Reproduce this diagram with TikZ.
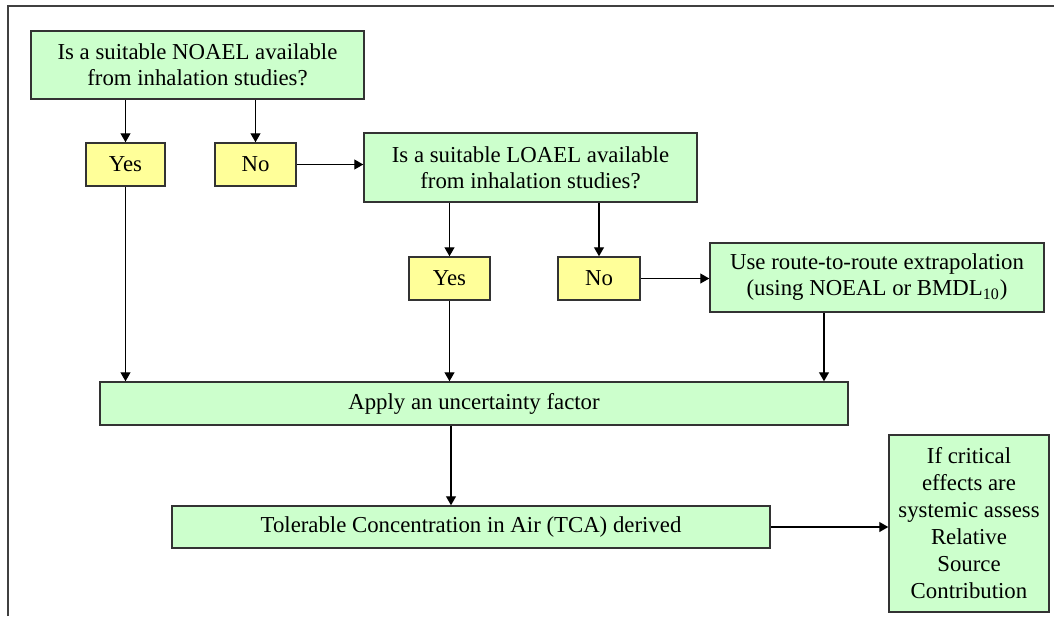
\documentclass[tikz,border=0pt]{standalone}
\usepackage{fontspec}
\setmainfont{LiberationSerif}[Extension=.ttf,UprightFont=*-Regular,BoldFont=*-Bold]
\usetikzlibrary{arrows.meta}

\definecolor{boxgreen}{HTML}{CCFFCC}
\definecolor{boxyellow}{HTML}{FFFF99}

\tikzset{
  greenbox/.style={draw=black!80, fill=boxgreen, line width=0.75pt, align=center, inner sep=0pt},
  answer/.style={draw=black!80, fill=boxyellow, line width=0.75pt, inner sep=0pt,
    minimum height=21.5pt},
  flow/.style={-{Triangle[length=4.5pt,width=5pt]}, line width=0.65pt}
}

\begin{document}
\begin{tikzpicture}[x=0.5pt,y=-0.5pt,font=\fontsize{11.4}{13}\selectfont]
      \useasboundingbox (0,0) rectangle (1054,616);
      \draw[line width=1pt,black!75] (8,616) -- (8,6) -- (1054,6);

      % questions
      \node[greenbox, minimum width=166.5pt, minimum height=34pt] (noael) at (197.5,65)
        {Is a suitable NOAEL available\\from inhalation studies?};
      \node[answer, minimum width=39.5pt] (yes1) at (125.5,164.5) {Yes};
      \node[answer, minimum width=40.5pt] (no1) at (255.5,164.5) {No};

      \node[greenbox, minimum width=166.5pt, minimum height=34.5pt] (loael) at (530.5,167.5)
        {Is a suitable LOAEL available\\from inhalation studies?};
      \node[answer, minimum width=40.5pt] (yes2) at (449.5,278.5) {Yes};
      \node[answer, minimum width=41pt] (no2) at (599,278.5) {No};

      \node[greenbox, minimum width=167pt, minimum height=34.5pt] (route) at (877,277.5)
        {Use route-to-route extrapolation\\(using NOEAL or BMDL\textsubscript{10})};

      % result
      \node[greenbox, minimum width=374pt, minimum height=21.5pt] (apply) at (474,403.5)
        {Apply an uncertainty factor};
      \node[greenbox, minimum width=299pt, minimum height=21pt] (tca) at (471,527)
        {Tolerable Concentration in Air (TCA) derived};
      \node[greenbox, minimum width=80pt, minimum height=88.5pt,
        font=\fontsize{11.4}{13.5}\selectfont] (rsc) at (969,523.5)
        {If critical\\effects are\\systemic assess\\Relative\\Source\\Contribution};

      \draw[flow] (yes1.north |- noael.south) -- (yes1.north);
      \draw[flow] (no1.north |- noael.south) -- (no1.north);
      \draw[flow] (no1.east) -- (no1.east -| loael.west);
      \draw[flow] (yes2.north |- loael.south) -- (yes2.north);
      \draw[flow] (no2.north |- loael.south) -- (no2.north);
      \draw[flow] (no2.east) -- (no2.east -| route.west);

      \draw[flow] (yes1.south) -- (yes1.south |- apply.north);
      \draw[flow] (yes2.south) -- (yes2.south |- apply.north);
      \draw[flow] ([xshift=-26.5pt]route.south) -- ([xshift=-26.5pt]route.south |- apply.north);
      \draw[flow] ([xshift=-10pt]tca.north |- apply.south) -- ([xshift=-10pt]tca.north);
      \draw[flow] (tca.east) -- (tca.east -| rsc.west);
    \end{tikzpicture}
\end{document}
